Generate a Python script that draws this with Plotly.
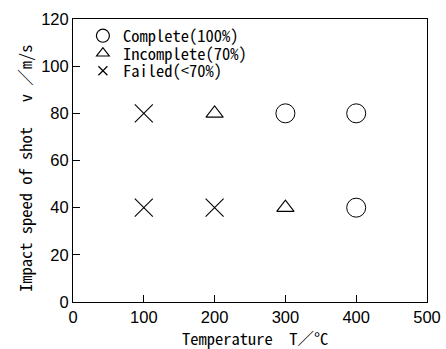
import plotly.graph_objects as go

# Data
complete_T = [300, 400, 400]
complete_v = [80, 80, 40]
incomplete_T = [200, 300]
incomplete_v = [80, 40]
failed_T = [100, 100, 200]
failed_v = [80, 40, 40]

x_ticks = [0, 100, 200, 300, 400, 500]
y_ticks = [0, 20, 40, 60, 80, 100, 120]

names = ["Complete(100%)", "Incomplete(70%)", "Failed(<70%)"]

mono = "Noto Sans Mono CJK JP, Liberation Mono, monospace"

fig = go.Figure()
# data marks
fig.add_trace(go.Scatter(
    x=complete_T, y=complete_v, mode="markers", showlegend=False,
    marker=dict(symbol="circle-open", size=19, color="black", line=dict(width=1)),
))
fig.add_trace(go.Scatter(
    x=incomplete_T, y=incomplete_v, mode="markers", showlegend=False,
    marker=dict(symbol="triangle-up-open", size=15, color="black", line=dict(width=1.1)),
))
fig.add_trace(go.Scatter(
    x=failed_T, y=failed_v, mode="markers", showlegend=False,
    marker=dict(symbol="x-thin-open", size=18, color="black", line=dict(width=1.1)),
))
# legend entries
fig.add_trace(go.Scatter(
    x=[None], y=[None], mode="markers", name=names[0], legend="legend",
    marker=dict(symbol="circle-open", size=13, color="black", line=dict(width=1.2)),
))
fig.add_trace(go.Scatter(
    x=[None], y=[None], mode="markers", name=names[1], legend="legend2",
    marker=dict(symbol="triangle-up-open", size=11, color="black", line=dict(width=1.2)),
))
fig.add_trace(go.Scatter(
    x=[None], y=[None], mode="markers", name=names[2], legend="legend3",
    marker=dict(symbol="x-thin-open", size=9, color="black", line=dict(width=1.2)),
))

H = 349
top, bottom = 19, 47
ph = H - top - bottom

def ly(py):
    return 1 - (py - top) / ph

leg_common = dict(
    xanchor="left", yanchor="middle",
    bgcolor="rgba(0,0,0,0)", borderwidth=0,
    font=dict(family=mono, size=16.5, color="black"),
    itemsizing="trace",
)

fig.update_layout(
    width=446, height=349,
    margin=dict(l=73, r=19, t=top, b=bottom, autoexpand=False),
    paper_bgcolor="white", plot_bgcolor="white",
    showlegend=True,
    legend=dict(x=0.028, y=ly(36), **leg_common),
    legend2=dict(x=0.028, y=ly(53.5), **leg_common),
    legend3=dict(x=0.028, y=ly(71), **leg_common),
    font=dict(family="Liberation Sans, Arial", size=16.5, color="black"),
    annotations=[
        dict(text="Temperature  T／°C", xref="paper", yref="paper",
             x=(255 - 73) / 354, y=ly(338), showarrow=False,
             font=dict(family=mono, size=16.5, color="black"),
             xanchor="center", yanchor="middle"),
        dict(text="Impact speed of shot   v ／m/s", xref="paper", yref="paper",
             x=(25 - 73) / 354, y=ly(168), showarrow=False, textangle=-90,
             font=dict(family=mono, size=16.5, color="black"),
             xanchor="center", yanchor="middle"),
    ],
)
fig.update_xaxes(
    range=[0, 500], tickvals=x_ticks, ticktext=[str(t) for t in x_ticks],
    ticks="inside", ticklen=7, tickcolor="black", tickwidth=1,
    showline=True, linecolor="black", linewidth=1, mirror=True,
    showgrid=False, zeroline=False, automargin=False,
)
fig.update_yaxes(
    range=[0, 120], tickvals=y_ticks, ticktext=[str(t) for t in y_ticks],
    ticks="inside", ticklen=7, tickcolor="black", tickwidth=1,
    showline=True, linecolor="black", linewidth=1, mirror=True,
    showgrid=False, zeroline=False, automargin=False,
)

fig.write_html(
    "out.html",
    config={"displayModeBar": False},
    post_script="document.body.style.margin='0';document.body.style.padding='0';",
)
